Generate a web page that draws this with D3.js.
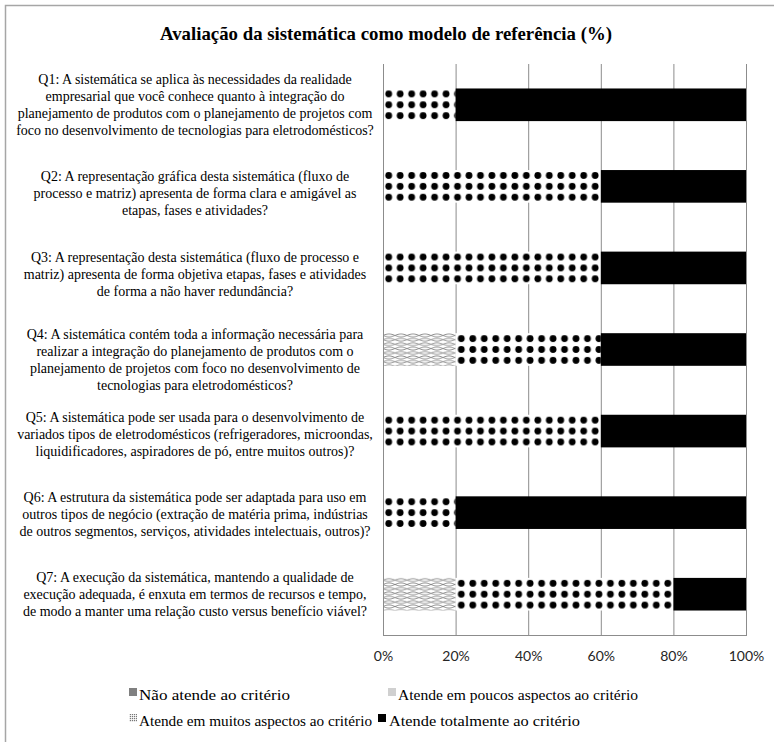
<!DOCTYPE html>
<html>
<head>
<meta charset="utf-8">
<script src="https://cdn.jsdelivr.net/npm/d3@7"></script>
<style>
  html, body { margin: 0; padding: 0; background: #fff; }
  svg { display: block; }
  .serif { font-family: "Liberation Serif", "Times New Roman", Tinos, "DejaVu Serif", serif; }
  .sans { font-family: Lato, "Open Sans", "Liberation Sans", sans-serif; }
</style>
</head>
<body>
<script>
// ---- data ----
const categories = ["Q1", "Q2", "Q3", "Q4", "Q5", "Q6", "Q7"];
const questionLines = [
  ["Q1: A sistemática se aplica às necessidades da realidade",
   "empresarial que você conhece quanto à integração do",
   "planejamento de produtos com o planejamento de projetos com",
   "foco no desenvolvimento de tecnologias para eletrodomésticos?"],
  ["Q2: A representação gráfica desta sistemática (fluxo de",
   "processo e matriz) apresenta de forma clara e amigável as",
   "etapas, fases e atividades?"],
  ["Q3: A representação desta sistemática (fluxo de processo e",
   "matriz) apresenta de forma objetiva etapas, fases e atividades",
   "de forma a não haver redundância?"],
  ["Q4: A sistemática contém toda a informação necessária para",
   "realizar a integração do planejamento de produtos com o",
   "planejamento de projetos com foco no desenvolvimento de",
   "tecnologias para eletrodomésticos?"],
  ["Q5: A sistemática pode ser usada para o desenvolvimento de",
   "variados tipos de eletrodomésticos (refrigeradores, microondas,",
   "liquidificadores, aspiradores de pó, entre muitos outros)?"],
  ["Q6: A estrutura da sistemática pode ser adaptada para uso em",
   "outros tipos de negócio (extração de matéria prima, indústrias",
   "de outros segmentos, serviços, atividades intelectuais, outros)?"],
  ["Q7: A execução da sistemática, mantendo a qualidade de",
   "execução adequada, é enxuta em termos de recursos e tempo,",
   "de modo a manter uma relação custo versus benefício viável?"]
];
const seriesNames = [
  "Não atende ao critério",
  "Atende em poucos aspectos ao critério",
  "Atende em muitos aspectos ao critério",
  "Atende totalmente ao critério"
];
const naoAtende  = [0, 0, 0, 0, 0, 0, 0];
const poucos     = [0, 0, 0, 20, 0, 0, 20];
const muitos     = [20, 60, 60, 40, 60, 20, 60];
const totalmente = [80, 40, 40, 40, 40, 80, 20];
const tickValues = [0, 20, 40, 60, 80, 100];
const tickLabels = ["0%", "20%", "40%", "60%", "80%", "100%"];
const titleText = "Avaliação da sistemática como modelo de referência (%)";

// ---- layout ----
const labelShift = [0, 7, 7, 10, 3, 2, 0];

const W = 774, H = 742;
const svg = d3.select("body").append("svg").attr("width", W).attr("height", H);
const defs = svg.append("defs");

svg.append("rect").attr("x", 5.5).attr("y", 5.5).attr("width", W + 20).attr("height", H + 20)
  .attr("fill", "none").attr("stroke", "#a6a6a6").attr("stroke-width", 1.5);

svg.append("text").attr("class", "serif").attr("x", 386).attr("y", 40)
  .attr("text-anchor", "middle")
  .attr("font-weight", "bold").attr("font-size", 19)
  .attr("textLength", 452).attr("lengthAdjust", "spacingAndGlyphs")
  .text(titleText);

const rows = categories.map((c, i) => ({
  cat: c, nao: naoAtende[i], poucos: poucos[i], muitos: muitos[i], total: totalmente[i]
}));
const keys = ["nao", "poucos", "muitos", "total"];
const stack = d3.stack().keys(keys)(rows);

const x = d3.scaleLinear().domain([0, 100]).range([383, 746]);
const y = d3.scaleBand().domain(categories).range([64, 635]).paddingInner(0.6).paddingOuter(0.3);

svg.append("g").selectAll("line").data(tickValues).join("line")
  .attr("x1", d => x(d) + 0.5).attr("x2", d => x(d) + 0.5)
  .attr("y1", 64).attr("y2", 635)
  .attr("stroke", "#8c8c8c").attr("stroke-width", 1);
svg.append("line").attr("x1", x(0)).attr("x2", x(100) + 1).attr("y1", 635.5).attr("y2", 635.5)
  .attr("stroke", "#8c8c8c").attr("stroke-width", 1);

const xAxis = d3.axisBottom(x).tickValues(tickValues).tickFormat((d, i) => tickLabels[i]).tickSize(0).tickPadding(0);
const gx = svg.append("g").attr("transform", "translate(0,651)").call(xAxis);
gx.select(".domain").remove();
gx.attr("font-family", null).attr("font-size", null);
gx.selectAll("text").attr("class", "sans").attr("font-size", 14)
  .attr("fill", "#262626").attr("dy", "0.71em");

function dotPattern(id, x0, y0, h) {
  const p = defs.append("pattern").attr("id", id).attr("patternUnits", "userSpaceOnUse")
    .attr("x", x0).attr("y", y0).attr("width", 11.47).attr("height", h / 3);
  p.append("rect").attr("width", 11.47).attr("height", h / 3).attr("fill", "#fff");
  p.append("circle").attr("cx", 5.7).attr("cy", h / 6).attr("r", 3.4).attr("fill", "#000");
}
function wavePattern(id, x0, y0) {
  const pw = 24, ph = 4.4;
  const p = defs.append("pattern").attr("id", id).attr("patternUnits", "userSpaceOnUse")
    .attr("x", x0).attr("y", y0).attr("width", pw).attr("height", ph);
  p.append("rect").attr("width", pw).attr("height", ph).attr("fill", "#fff");
  const line = d3.line();
  const n = 24;
  for (const ph0 of [0, Math.PI]) {
    for (const off of [-ph, 0, ph]) {
      const pts = d3.range(n + 1).map(k => {
        const xx = k * pw / n;
        return [xx, ph / 2 + off + 1.4 * Math.sin(2 * Math.PI * xx / pw + ph0)];
      });
      p.append("path").attr("d", line(pts)).attr("fill", "none")
        .attr("stroke", "#7a7a7a").attr("stroke-width", 0.8);
    }
  }
}

const colors = { nao: "#808080", poucos: "wave", muitos: "dots", total: "#000" };

stack.forEach(layer => {
  const key = layer.key;
  layer.forEach(d => {
    const w = x(d[1]) - x(d[0]);
    if (w <= 0) return;
    const cat = d.data.cat;
    const bx = x(d[0]), by = y(cat), bh = y.bandwidth();
    let fill = colors[key];
    if (fill === "dots") { const id = "dots-" + cat; dotPattern(id, bx, by, bh); fill = `url(#${id})`; }
    else if (fill === "wave") { const id = "wave-" + cat; wavePattern(id, bx, by); fill = `url(#${id})`; }
    svg.append("rect").attr("x", bx + (d[0] === 0 ? 1 : 0)).attr("y", by)
      .attr("width", w - (d[0] === 0 ? 1 : 0)).attr("height", bh).attr("fill", fill);
  });
});

const lh = 17;
categories.forEach((c, i) => {
  const lines = questionLines[i];
  const cy = y(c) + y.bandwidth() / 2 + labelShift[i];
  const t = svg.append("text").attr("class", "serif").attr("text-anchor", "middle")
    .attr("font-size", 14).attr("fill", "#000");
  lines.forEach((ln, j) => {
    t.append("tspan").attr("x", 195)
      .attr("y", cy + (j - (lines.length - 1) / 2) * lh + 4.5).text(ln);
  });
});

defs.append("pattern").attr("id", "legdots").attr("patternUnits", "userSpaceOnUse")
  .attr("width", 2).attr("height", 2)
  .call(p => { p.append("rect").attr("width", 2).attr("height", 2).attr("fill", "#fff");
               p.append("rect").attr("width", 1.2).attr("height", 1.2).attr("fill", "#777"); });
const legendItems = [
  { name: seriesNames[0], fill: "#808080", sx: 129, sy: 688, tx: 139, ty: 700, tw: 151 },
  { name: seriesNames[1], fill: "#d0d0d0", sx: 388, sy: 688, tx: 398, ty: 700, tw: 240 },
  { name: seriesNames[2], fill: "url(#legdots)", sx: 129, sy: 714, tx: 139, ty: 726, tw: 233 },
  { name: seriesNames[3], fill: "#000", sx: 378, sy: 714, tx: 389, ty: 726, tw: 191 }
];
const lg = svg.append("g");
legendItems.forEach(it => {
  lg.append("rect").attr("x", it.sx).attr("y", it.sy).attr("width", 8).attr("height", 8).attr("fill", it.fill);
  lg.append("text").attr("class", "serif").attr("x", it.tx).attr("y", it.ty)
    .attr("font-size", 15).attr("fill", "#000")
    .attr("textLength", it.tw).attr("lengthAdjust", "spacingAndGlyphs")
    .text(it.name);
});
</script>
</body>
</html>
